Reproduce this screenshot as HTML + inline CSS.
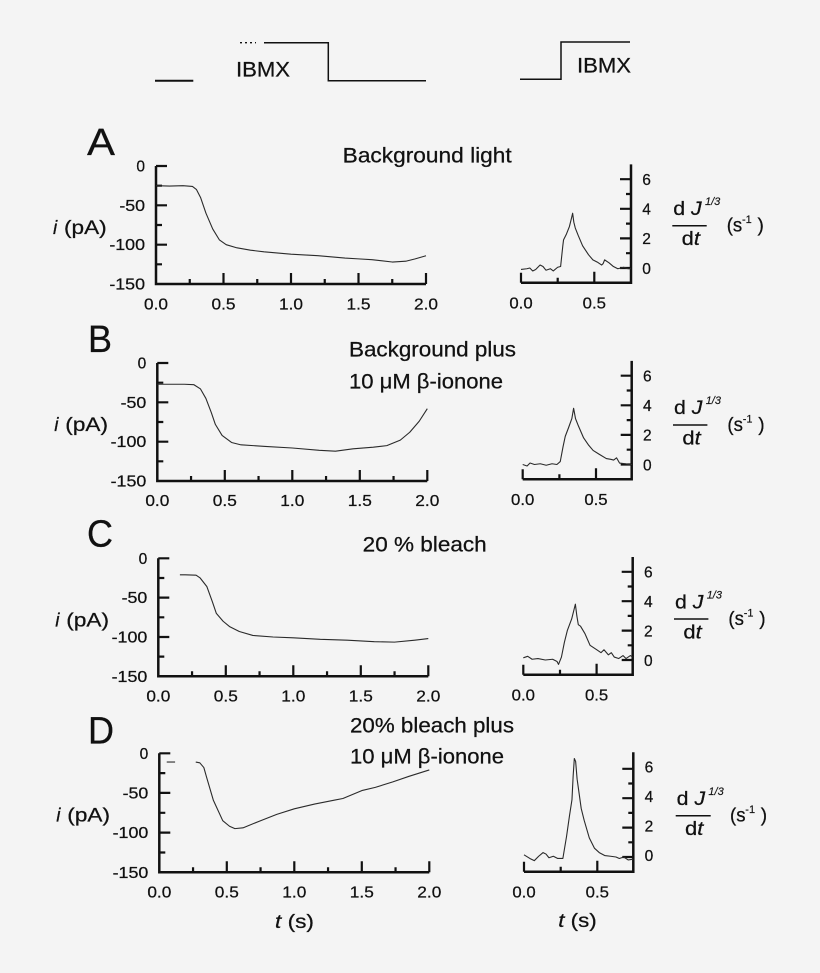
<!DOCTYPE html>
<html><head><meta charset="utf-8"><style>
html,body{margin:0;padding:0;background:#f4f4f4;}
svg{display:block;}
text{font-family:"Liberation Sans",Arial,sans-serif;fill:#111;stroke:#111;stroke-width:0.25;}
.tk{font-size:15.5px;}
.lab{font-size:21px;}
.ax{fill:none;stroke:#111;stroke-width:2.5;}
.tick{fill:none;stroke:#111;stroke-width:2.2;}
.dat{fill:none;stroke:#2a2a2a;stroke-width:1.1;vector-effect:non-scaling-stroke;stroke-linejoin:round;}
.al{font-size:19px;}
.sup{font-size:11px;stroke-width:0.15;}
</style></head><body>
<svg width="820" height="973" viewBox="0 0 820 973" xmlns="http://www.w3.org/2000/svg">
<rect width="820" height="973" fill="#f4f4f4"/>

<!-- Top IBMX traces -->
<path d="M155,80.7 H193.3" stroke="#111" stroke-width="2" fill="none"/>
<path d="M240,42.7 H256" stroke="#111" stroke-width="1.3" stroke-dasharray="2,3" fill="none"/>
<path d="M264,42.7 H328.3 V80.7 H426" stroke="#111" stroke-width="1.5" fill="none"/>
<text class="lab" x="236" y="76.7" textLength="54" lengthAdjust="spacingAndGlyphs">IBMX</text>
<path d="M520,79.3 H561 V42 H630" stroke="#111" stroke-width="1.5" fill="none"/>
<text class="lab" x="577" y="72.7" textLength="54" lengthAdjust="spacingAndGlyphs">IBMX</text>

<!-- Panel letters -->
<text x="87" y="155" font-size="38" textLength="28" lengthAdjust="spacingAndGlyphs">A</text>
<text x="88" y="352" font-size="38" textLength="24" lengthAdjust="spacingAndGlyphs">B</text>
<text x="87" y="546.7" font-size="38" textLength="26" lengthAdjust="spacingAndGlyphs">C</text>
<text x="88" y="743.3" font-size="38" textLength="26" lengthAdjust="spacingAndGlyphs">D</text>

<!-- Condition labels -->
<text class="lab" x="342.7" y="162.7" textLength="169" lengthAdjust="spacingAndGlyphs">Background light</text>
<text class="lab" x="349" y="356.7" textLength="167" lengthAdjust="spacingAndGlyphs">Background plus</text>
<text class="lab" x="349" y="388.3" textLength="154" lengthAdjust="spacingAndGlyphs">10 μM β-ionone</text>
<text class="lab" x="362.7" y="551.7" textLength="124" lengthAdjust="spacingAndGlyphs">20 % bleach</text>
<text class="lab" x="350" y="732.5" textLength="164" lengthAdjust="spacingAndGlyphs">20% bleach plus</text>
<text class="lab" x="350" y="763.3" textLength="154" lengthAdjust="spacingAndGlyphs">10 μM β-ionone</text>

<!-- ===== LEFT PANELS ===== -->
<!-- A -->
<g transform="translate(156,166)">
<path class="ax" d="M0,0 V118 H270"/>
<path class="tick" d="M0,0h11M0,39.3h11M0,78.7h11M0,19.7h6M0,59h6M0,98.3h6M33.75,118v-5M67.5,118v-11M101.25,118v-5M135,118v-11M168.75,118v-5M202.5,118v-11M236.25,118v-5M270,118v-11"/>
<g class="tk">
<text x="-11" y="5.5" text-anchor="end">0</text>
<text x="-11" y="44.8" text-anchor="end" textLength="25.7" lengthAdjust="spacingAndGlyphs">-50</text>
<text x="-11" y="84.2" text-anchor="end" textLength="35.7" lengthAdjust="spacingAndGlyphs">-100</text>
<text x="-11" y="123.5" text-anchor="end" textLength="35.7" lengthAdjust="spacingAndGlyphs">-150</text>
<text x="0" y="143.3" text-anchor="middle" textLength="24" lengthAdjust="spacingAndGlyphs">0.0</text>
<text x="67.5" y="143.3" text-anchor="middle" textLength="24" lengthAdjust="spacingAndGlyphs">0.5</text>
<text x="135" y="143.3" text-anchor="middle" textLength="24" lengthAdjust="spacingAndGlyphs">1.0</text>
<text x="202.5" y="143.3" text-anchor="middle" textLength="24" lengthAdjust="spacingAndGlyphs">1.5</text>
<text x="270" y="143.3" text-anchor="middle" textLength="24" lengthAdjust="spacingAndGlyphs">2.0</text>
</g>
<text class="al" x="-103" y="68" font-style="italic">i</text>
<text class="al" x="-92" y="68" textLength="42.7" lengthAdjust="spacingAndGlyphs">(pA)</text>
<g transform="scale(135,-0.787)">
<polyline class="dat" points="0,-25 0.1,-25.5 0.2,-25 0.27,-26 0.3,-30 0.33,-40 0.37,-60 0.42,-80 0.47,-94 0.52,-100 0.6,-104 0.7,-107 0.8,-109 1,-112 1.2,-114 1.4,-117 1.5,-118 1.6,-119 1.75,-122 1.85,-121 1.92,-118 2,-114"/>
</g>
</g>

<!-- B -->
<g transform="translate(157.3,363)">
<path class="ax" d="M0,0 V118 H270"/>
<path class="tick" d="M0,0h11M0,39.3h11M0,78.7h11M0,19.7h6M0,59h6M0,98.3h6M33.75,118v-5M67.5,118v-11M101.25,118v-5M135,118v-11M168.75,118v-5M202.5,118v-11M236.25,118v-5M270,118v-11"/>
<g class="tk">
<text x="-11" y="5.5" text-anchor="end">0</text>
<text x="-11" y="44.8" text-anchor="end" textLength="25.7" lengthAdjust="spacingAndGlyphs">-50</text>
<text x="-11" y="84.2" text-anchor="end" textLength="35.7" lengthAdjust="spacingAndGlyphs">-100</text>
<text x="-11" y="123.5" text-anchor="end" textLength="35.7" lengthAdjust="spacingAndGlyphs">-150</text>
<text x="0" y="143" text-anchor="middle" textLength="24" lengthAdjust="spacingAndGlyphs">0.0</text>
<text x="67.5" y="143" text-anchor="middle" textLength="24" lengthAdjust="spacingAndGlyphs">0.5</text>
<text x="135" y="143" text-anchor="middle" textLength="24" lengthAdjust="spacingAndGlyphs">1.0</text>
<text x="202.5" y="143" text-anchor="middle" textLength="24" lengthAdjust="spacingAndGlyphs">1.5</text>
<text x="270" y="143" text-anchor="middle" textLength="24" lengthAdjust="spacingAndGlyphs">2.0</text>
</g>
<text class="al" x="-103" y="68" font-style="italic">i</text>
<text class="al" x="-92" y="68" textLength="42.7" lengthAdjust="spacingAndGlyphs">(pA)</text>
<g transform="scale(135,-0.787)">
<polyline class="dat" points="0,-27 0.1,-27 0.2,-27 0.27,-27.5 0.32,-33 0.36,-45 0.4,-63 0.43,-78 0.48,-92 0.55,-101 0.62,-104 0.8,-106 1,-108 1.2,-111 1.32,-112 1.45,-109 1.6,-107 1.7,-105 1.8,-98 1.87,-88 1.94,-74 2,-58"/>
</g>
</g>

<!-- C -->
<g transform="translate(158.3,558.3)">
<path class="ax" d="M0,0 V118 H270"/>
<path class="tick" d="M0,0h11M0,39.3h11M0,78.7h11M0,19.7h6M0,59h6M0,98.3h6M33.75,118v-5M67.5,118v-11M101.25,118v-5M135,118v-11M168.75,118v-5M202.5,118v-11M236.25,118v-5M270,118v-11"/>
<g class="tk">
<text x="-11" y="5.5" text-anchor="end">0</text>
<text x="-11" y="44.8" text-anchor="end" textLength="25.7" lengthAdjust="spacingAndGlyphs">-50</text>
<text x="-11" y="84.2" text-anchor="end" textLength="35.7" lengthAdjust="spacingAndGlyphs">-100</text>
<text x="-11" y="123.5" text-anchor="end" textLength="35.7" lengthAdjust="spacingAndGlyphs">-150</text>
<text x="0" y="143" text-anchor="middle" textLength="24" lengthAdjust="spacingAndGlyphs">0.0</text>
<text x="67.5" y="143" text-anchor="middle" textLength="24" lengthAdjust="spacingAndGlyphs">0.5</text>
<text x="135" y="143" text-anchor="middle" textLength="24" lengthAdjust="spacingAndGlyphs">1.0</text>
<text x="202.5" y="143" text-anchor="middle" textLength="24" lengthAdjust="spacingAndGlyphs">1.5</text>
<text x="270" y="143" text-anchor="middle" textLength="24" lengthAdjust="spacingAndGlyphs">2.0</text>
</g>
<text class="al" x="-103" y="68" font-style="italic">i</text>
<text class="al" x="-92" y="68" textLength="42.7" lengthAdjust="spacingAndGlyphs">(pA)</text>
<g transform="scale(135,-0.787)">
<polyline class="dat" points="0.16,-21 0.2,-21 0.28,-21.5 0.31,-25 0.36,-36 0.4,-55 0.43,-70 0.48,-80 0.53,-87 0.6,-93 0.7,-98 0.85,-100 1,-101 1.2,-103 1.4,-104 1.6,-106 1.75,-106.5 1.9,-104 2,-102"/>
</g>
</g>

<!-- D -->
<g transform="translate(159.3,753.3)">
<path class="ax" d="M0,0 V119 H270"/>
<path class="tick" d="M0,0h11M0,39.6h11M0,79.3h11M0,19.8h6M0,59.5h6M0,99.2h6M33.75,119v-5M67.5,119v-11M101.25,119v-5M135,119v-11M168.75,119v-5M202.5,119v-11M236.25,119v-5M270,119v-11"/>
<g class="tk">
<text x="-11" y="5.5" text-anchor="end">0</text>
<text x="-11" y="45.1" text-anchor="end" textLength="25.7" lengthAdjust="spacingAndGlyphs">-50</text>
<text x="-11" y="84.8" text-anchor="end" textLength="35.7" lengthAdjust="spacingAndGlyphs">-100</text>
<text x="-11" y="124.5" text-anchor="end" textLength="35.7" lengthAdjust="spacingAndGlyphs">-150</text>
<text x="0" y="144" text-anchor="middle" textLength="24" lengthAdjust="spacingAndGlyphs">0.0</text>
<text x="67.5" y="144" text-anchor="middle" textLength="24" lengthAdjust="spacingAndGlyphs">0.5</text>
<text x="135" y="144" text-anchor="middle" textLength="24" lengthAdjust="spacingAndGlyphs">1.0</text>
<text x="202.5" y="144" text-anchor="middle" textLength="24" lengthAdjust="spacingAndGlyphs">1.5</text>
<text x="270" y="144" text-anchor="middle" textLength="24" lengthAdjust="spacingAndGlyphs">2.0</text>
</g>
<text class="al" x="-103" y="68" font-style="italic">i</text>
<text class="al" x="-92" y="68" textLength="42.7" lengthAdjust="spacingAndGlyphs">(pA)</text>
<g transform="scale(135,-0.793)">
<polyline class="dat" points="0.055,-11 0.117,-11"/>
<polyline class="dat" points="0.27,-11 0.3,-12 0.33,-18 0.35,-30 0.4,-59 0.47,-85 0.52,-92 0.56,-95 0.62,-94 0.75,-85 0.87,-77 1,-70 1.15,-64 1.3,-59 1.36,-57 1.5,-47 1.6,-43 1.73,-36 1.85,-29 2,-21"/>
</g>
</g>

<!-- t (s) labels -->
<text class="al" x="275" y="928" textLength="39" lengthAdjust="spacingAndGlyphs"><tspan font-style="italic">t</tspan> (s)</text>
<text class="al" x="558.3" y="927" textLength="38.4" lengthAdjust="spacingAndGlyphs"><tspan font-style="italic">t</tspan> (s)</text>

<!-- ===== RIGHT PANELS ===== -->
<!-- A right -->
<g transform="translate(521,268)">
<path class="ax" d="M0,14.8 H110 V-103.6"/>
<path class="tick" d="M0,14.8v-10M36.7,14.8v-5M73.3,14.8v-11M110,0h-11M110,-29.6h-11M110,-59.2h-11M110,-88.8h-11M110,-14.8h-5M110,-44.4h-5M110,-74h-5"/>
<g class="tk">
<text x="121.3" y="5.8">0</text>
<text x="121.3" y="-23.8">2</text>
<text x="121.3" y="-53.4">4</text>
<text x="121.3" y="-83">6</text>
<text x="0" y="40.3" text-anchor="middle" textLength="23.3" lengthAdjust="spacingAndGlyphs">0.0</text>
<text x="73.3" y="40.3" text-anchor="middle" textLength="23.3" lengthAdjust="spacingAndGlyphs">0.5</text>
</g>
<g transform="scale(146.7,-14.8)">
<polyline class="dat" points="0,-0.1 0.04,-0.05 0.06,0 0.08,-0.2 0.1,-0.1 0.13,0.2 0.15,0.1 0.17,-0.15 0.2,-0.05 0.22,-0.2 0.25,0.05 0.27,0.1 0.285,1.5 0.29,1.9 0.31,2.3 0.33,2.8 0.345,3.4 0.352,3.7 0.36,3.1 0.37,2.7 0.39,2.2 0.42,1.5 0.46,0.9 0.49,0.55 0.52,0.4 0.55,0.2 0.56,0.3 0.57,0.55 0.6,0.35 0.63,0.1 0.66,-0.05 0.7,0.05 0.73,-0.05 0.75,-0.05"/>
</g>
</g>
<g>
<text class="al" x="673.3" y="215" textLength="28.4" lengthAdjust="spacingAndGlyphs">d <tspan font-style="italic">J</tspan></text>
<text class="sup" x="705" y="205" font-style="italic">1/3</text>
<path d="M672.3,225.7 H706.7" stroke="#111" stroke-width="1.5"/>
<text class="al" x="681.7" y="245" textLength="18.3" lengthAdjust="spacingAndGlyphs">d<tspan font-style="italic">t</tspan></text>
<text class="al" x="726.7" y="231.7" textLength="15.5" lengthAdjust="spacingAndGlyphs">(s</text>
<text class="sup" x="742" y="223">-1</text>
<text class="al" x="757.5" y="231.7">)</text>
</g>

<!-- B right -->
<g transform="translate(522.7,464.5)">
<path class="ax" d="M0,14.8 H109 V-103.6"/>
<path class="tick" d="M0,14.8v-10M36.7,14.8v-5M73.3,14.8v-11M109,0h-11M109,-29.6h-11M109,-59.2h-11M109,-88.8h-11M109,-14.8h-5M109,-44.4h-5M109,-74h-5"/>
<g class="tk">
<text x="120.3" y="5.8">0</text>
<text x="120.3" y="-23.8">2</text>
<text x="120.3" y="-53.4">4</text>
<text x="120.3" y="-83">6</text>
<text x="0" y="40.3" text-anchor="middle" textLength="23.3" lengthAdjust="spacingAndGlyphs">0.0</text>
<text x="73.3" y="40.3" text-anchor="middle" textLength="23.3" lengthAdjust="spacingAndGlyphs">0.5</text>
</g>
<g transform="scale(146.7,-14.8)">
<polyline class="dat" points="0,0 0.03,-0.1 0.05,0.1 0.08,0 0.12,0.05 0.16,-0.05 0.2,0.05 0.233,0 0.256,0.2 0.275,1.2 0.29,1.9 0.313,2.5 0.335,3.1 0.347,3.8 0.36,3.1 0.38,2.6 0.415,1.8 0.45,1.3 0.48,0.95 0.52,0.7 0.57,0.4 0.6,0.35 0.62,0.3 0.64,0.45 0.66,0.1 0.7,0.05 0.72,0 0.745,0"/>
</g>
</g>
<g>
<text class="al" x="674" y="413.8" textLength="28.4" lengthAdjust="spacingAndGlyphs">d <tspan font-style="italic">J</tspan></text>
<text class="sup" x="705.7" y="404" font-style="italic">1/3</text>
<path d="M673,425 H707.4" stroke="#111" stroke-width="1.5"/>
<text class="al" x="682.4" y="444.3" textLength="18.3" lengthAdjust="spacingAndGlyphs">d<tspan font-style="italic">t</tspan></text>
<text class="al" x="727.4" y="431" textLength="15.5" lengthAdjust="spacingAndGlyphs">(s</text>
<text class="sup" x="742.7" y="422.3">-1</text>
<text class="al" x="758.2" y="431">)</text>
</g>

<!-- C right -->
<g transform="translate(523.3,660)">
<path class="ax" d="M0,14.7 H109.4 V-103"/>
<path class="tick" d="M0,14.7v-10M36.7,14.7v-5M73.3,14.7v-11M109.4,0h-11M109.4,-29.4h-11M109.4,-58.8h-11M109.4,-88.2h-11M109.4,-14.7h-5M109.4,-44.1h-5M109.4,-73.5h-5"/>
<g class="tk">
<text x="120.7" y="5.8">0</text>
<text x="120.7" y="-23.6">2</text>
<text x="120.7" y="-53">4</text>
<text x="120.7" y="-82.4">6</text>
<text x="0" y="40.3" text-anchor="middle" textLength="23.3" lengthAdjust="spacingAndGlyphs">0.0</text>
<text x="73.3" y="40.3" text-anchor="middle" textLength="23.3" lengthAdjust="spacingAndGlyphs">0.5</text>
</g>
<g transform="scale(146.7,-14.7)">
<polyline class="dat" points="0,0.15 0.03,0.25 0.06,0.05 0.1,0.1 0.15,0 0.2,0.05 0.23,-0.1 0.24,-0.3 0.26,0.2 0.28,1.2 0.3,2.0 0.33,2.8 0.355,3.8 0.365,3.0 0.375,2.4 0.39,2.3 0.42,1.8 0.455,1.0 0.5,0.7 0.53,0.5 0.55,0.7 0.58,0.35 0.6,0.5 0.62,0.2 0.65,0.1 0.68,0.3 0.7,0.1 0.73,0.3 0.745,0.2"/>
</g>
</g>
<g>
<text class="al" x="675" y="608.3" textLength="28.4" lengthAdjust="spacingAndGlyphs">d <tspan font-style="italic">J</tspan></text>
<text class="sup" x="706.7" y="598.3" font-style="italic">1/3</text>
<path d="M674,619 H708.4" stroke="#111" stroke-width="1.5"/>
<text class="al" x="683.4" y="638.3" textLength="18.3" lengthAdjust="spacingAndGlyphs">d<tspan font-style="italic">t</tspan></text>
<text class="al" x="728.4" y="625" textLength="15.5" lengthAdjust="spacingAndGlyphs">(s</text>
<text class="sup" x="743.7" y="616.3">-1</text>
<text class="al" x="759.2" y="625">)</text>
</g>

<!-- D right -->
<g transform="translate(524,857)">
<path class="ax" d="M0,14.7 H109.3 V-104.7"/>
<path class="tick" d="M0,14.7v-10M36.7,14.7v-5M73.3,14.7v-11M109.3,0h-11M109.3,-29.4h-11M109.3,-58.8h-11M109.3,-88.2h-11M109.3,-14.7h-5M109.3,-44.1h-5M109.3,-73.5h-5"/>
<g class="tk">
<text x="120.6" y="3.8">0</text>
<text x="120.6" y="-25.6">2</text>
<text x="120.6" y="-55">4</text>
<text x="120.6" y="-84.4">6</text>
<text x="0" y="40.3" text-anchor="middle" textLength="23.3" lengthAdjust="spacingAndGlyphs">0.0</text>
<text x="73.3" y="40.3" text-anchor="middle" textLength="23.3" lengthAdjust="spacingAndGlyphs">0.5</text>
</g>
<g transform="scale(146.7,-14.7)">
<polyline class="dat" points="0,0.15 0.04,-0.1 0.07,-0.25 0.1,0.05 0.13,0.3 0.15,0.2 0.17,-0.05 0.2,0.05 0.23,-0.1 0.265,-0.1 0.29,1.4 0.31,2.8 0.327,3.9 0.335,5.5 0.343,6.7 0.352,6.5 0.362,5.3 0.39,3.3 0.41,2.5 0.445,1.3 0.48,0.6 0.513,0.3 0.55,0.1 0.59,0.05 0.627,0 0.65,-0.1 0.68,0 0.71,-0.2 0.745,-0.15"/>
</g>
</g>
<g>
<text class="al" x="676.7" y="805" textLength="28.4" lengthAdjust="spacingAndGlyphs">d <tspan font-style="italic">J</tspan></text>
<text class="sup" x="708.4" y="795" font-style="italic">1/3</text>
<path d="M675.7,815.7 H710.7" stroke="#111" stroke-width="1.5"/>
<text class="al" x="685" y="835" textLength="18.3" lengthAdjust="spacingAndGlyphs">d<tspan font-style="italic">t</tspan></text>
<text class="al" x="730" y="821.7" textLength="15.5" lengthAdjust="spacingAndGlyphs">(s</text>
<text class="sup" x="745.3" y="813">-1</text>
<text class="al" x="760.8" y="821.7">)</text>
</g>

</svg>
</body></html>
